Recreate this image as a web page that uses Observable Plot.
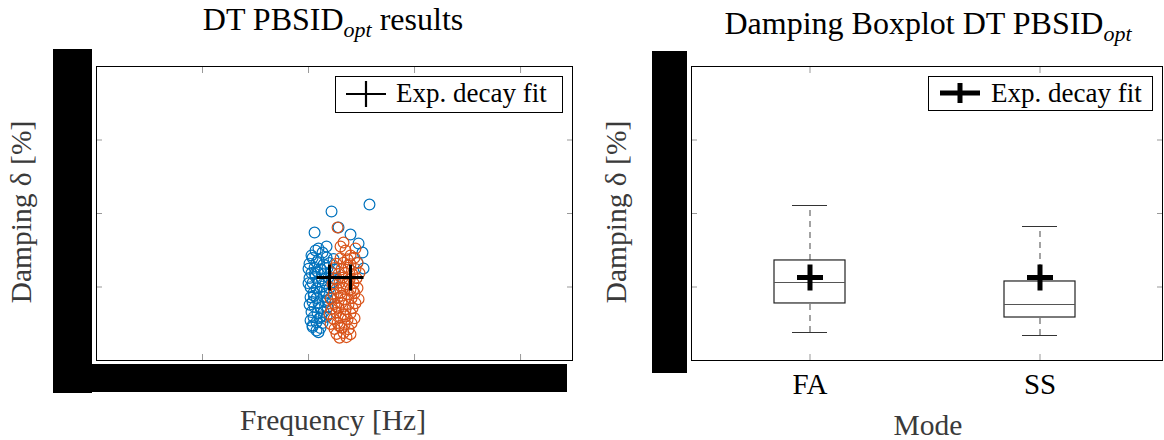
<!DOCTYPE html>
<html>
<head>
<meta charset="utf-8">
<script src="https://cdn.jsdelivr.net/npm/d3@7"></script>
<script src="https://cdn.jsdelivr.net/npm/@observablehq/plot@0.6"></script>
<style>
  body { margin: 0; background: #fff; }
  #root { position: relative; width: 1164px; height: 440px; overflow: hidden; }
  #root > svg, #root > figure { position: absolute; top: 0; margin: 0; }
</style>
</head>
<body>
<div id="root"></div>
<script>
// ---------------- data ----------------
// Scatter, left panel: FA (blue) and SS (orange) identified modes
const blueFreq = [2.217,2.575,2.283,2.057,2.396,2.472,2.509,2.094,2.066,2.132,2.028,2.170,2.462,2.519,
  2.038,2.094,2.170,2.236, 2.009,2.075,2.142,2.198, 2.000,2.057,2.113,2.179,2.245,
  2.028,2.085,2.151,2.217, 2.009,2.066,2.123,2.189, 2.038,2.094,2.160,2.226,
  2.019,2.075,2.132,2.198, 2.047,2.104,2.170, 2.019,2.075,2.142,2.208,
  2.038,2.094,2.160, 2.057,2.113,2.179, 2.028,2.085,2.142, 2.047,2.104,2.170,
  2.075,2.132, 2.038,2.113, 2.094,
  2.000,2.010,2.150,2.060,2.120,2.180,2.240,2.050,2.019,2.075,2.038];
const blueDamp = [2.027,2.122,1.810,1.741,1.714,1.592,1.469,1.524,1.497,1.469,1.429,1.551,1.333,1.252,
  1.395,1.372,1.401,1.380, 1.318,1.335,1.305,1.326, 1.247,1.262,1.240,1.258,1.235,
  1.190,1.205,1.182,1.199, 1.122,1.138,1.115,1.131, 1.055,1.070,1.048,1.066,
  0.998,0.980,1.005,0.987, 0.920,0.935,0.912, 0.862,0.849,0.868,0.851,
  0.795,0.778,0.791, 0.728,0.712,0.725, 0.660,0.647,0.664, 0.590,0.578,0.596,
  0.522,0.510, 0.455,0.442, 0.385,
  1.050,0.760,0.950,1.180,0.600,0.820,1.120,0.880,0.544,0.408,0.476];

const orangeFreq = [2.274,2.330,2.443,2.396,2.349,2.302,
  2.302,2.368,2.434, 2.264,2.330,2.396,2.462, 2.245,2.311,2.377,2.443,
  2.283,2.349,2.415,2.481, 2.255,2.321,2.387,2.453, 2.226,2.292,2.358,2.425,
  2.264,2.330,2.396,2.462, 2.236,2.302,2.368,2.434, 2.208,2.274,2.340,2.406,2.472,
  2.245,2.311,2.377,2.443, 2.217,2.283,2.349,2.415, 2.198,2.264,2.330,2.396,
  2.236,2.302,2.368,2.434, 2.208,2.274,2.340,2.406, 2.245,2.311,2.377,
  2.264,2.330,2.396, 2.292,2.358,
  2.290,2.350,2.310,2.260,2.420,2.370];
const orangeDamp = [1.810,1.605,1.524,1.429,1.497,1.551,
  1.392,1.377,1.398, 1.315,1.330,1.308,1.327, 1.258,1.240,1.262,1.245,
  1.178,1.195,1.172,1.190, 1.110,1.125,1.102,1.120, 1.042,1.058,1.035,1.052,
  0.975,0.990,0.968,0.985, 0.905,0.920,0.898,0.915, 0.838,0.852,0.830,0.848,0.835,
  0.770,0.785,0.762,0.780, 0.700,0.715,0.695,0.712, 0.632,0.648,0.625,0.642,
  0.565,0.580,0.558,0.575, 0.498,0.512,0.490,0.508, 0.430,0.445,0.425,
  0.362,0.375,0.358, 0.310,0.318,
  0.470,0.600,0.880,0.740,0.950,1.070];

// Exponential decay fit results (FA, SS)
const fitFreq = [2.198, 2.396];
const fitDamp = [1.129, 1.129];

// Boxplot, right panel
const modes = ["FA", "SS"];
const whiskerLow = [0.381, 0.340];
const quart1 = [0.776, 0.585];
const medians = [1.061, 0.762];
const quart3 = [1.361, 1.075];
const whiskerHigh = [2.109, 1.823];
const fitMean = [1.129, 1.129];

// Tick values (labels hidden in the reference)
const freqTicks = [1, 2, 3, 4];
const dampTicks = [1, 2, 3];

// ---------------- build ----------------
const blue = blueFreq.map((f, i) => ({f, d: blueDamp[i]}));
const orange = orangeFreq.map((f, i) => ({f, d: orangeDamp[i]}));
const fits = fitFreq.map((f, i) => ({f, d: fitDamp[i]}));
const box = modes.map((m, i) => ({mode: m, lo: whiskerLow[i], q1: quart1[i], med: medians[i], q3: quart3[i], hi: whiskerHigh[i], mean: fitMean[i]}));

const plusSym = {
  draw(ctx, size) {
    const r = Math.sqrt(size / Math.PI);
    ctx.moveTo(-r, 0); ctx.lineTo(r, 0);
    ctx.moveTo(0, -r); ctx.lineTo(0, r);
  }
};

const FONT = "'Liberation Serif', 'Times New Roman', serif";
const tickStroke = "#999";
const inTicks = (ticksX, ticksY) => [
  Plot.axisX(ticksX, {anchor: "bottom", tickSize: -6, tickFormat: () => "", label: null, stroke: tickStroke}),
  Plot.axisX(ticksX, {anchor: "top", tickSize: -6, tickFormat: () => "", label: null, stroke: tickStroke}),
  Plot.axisY(ticksY, {anchor: "left", tickSize: -6, tickFormat: () => "", label: null, stroke: tickStroke}),
  Plot.axisY(ticksY, {anchor: "right", tickSize: -6, tickFormat: () => "", label: null, stroke: tickStroke})
];

const left = Plot.plot({
  width: 582, height: 440,
  marginLeft: 96, marginRight: 10, marginTop: 66, marginBottom: 80,
  style: {fontFamily: FONT, background: "transparent", color: "black"},
  x: {domain: [0, 4.49]},
  y: {domain: [0, 4]},
  marks: [
    ...inTicks(freqTicks, dampTicks),
    Plot.dot(blue, {x: "f", y: "d", r: 5.4, stroke: "#0072BD", strokeWidth: 1.2, fill: "none"}),
    Plot.dot(orange, {x: "f", y: "d", r: 5.4, stroke: "#D95319", strokeWidth: 1.2, fill: "none"}),
    Plot.dot(fits, {x: "f", y: "d", symbol: plusSym, r: 13, stroke: "black", strokeWidth: 3, fill: "none"}),
    Plot.frame({stroke: "black", strokeWidth: 1})
  ]
});
left.style.left = "0px";

const right = Plot.plot({
  width: 569, height: 440,
  marginLeft: 96, marginRight: 2, marginTop: 66, marginBottom: 80,
  style: {fontFamily: FONT, background: "transparent", color: "black"},
  x: {domain: modes, paddingInner: 0.693, paddingOuter: 0.366, align: 0.488},
  y: {domain: [0, 4]},
  marks: [
    Plot.axisX({anchor: "bottom", tickSize: -6, tickFormat: () => "", label: null, stroke: tickStroke}),
    Plot.axisX({anchor: "top", tickSize: -6, tickFormat: () => "", label: null, stroke: tickStroke}),
    Plot.axisX({anchor: "bottom", tickSize: 0, tickPadding: 13, label: null, fontSize: 29, fill: "black"}),
    Plot.axisY(dampTicks, {anchor: "left", tickSize: -6, tickFormat: () => "", label: null, stroke: tickStroke}),
    Plot.axisY(dampTicks, {anchor: "right", tickSize: -6, tickFormat: () => "", label: null, stroke: tickStroke}),
    Plot.ruleX(box, {x: "mode", y1: "q3", y2: "hi", stroke: "#666", strokeWidth: 1.2, strokeDasharray: "6,5"}),
    Plot.ruleX(box, {x: "mode", y1: "lo", y2: "q1", stroke: "#666", strokeWidth: 1.2, strokeDasharray: "6,5"}),
    Plot.tickY(box, {x: "mode", y: "hi", insetLeft: 18, insetRight: 18, stroke: "#333", strokeWidth: 1.2}),
    Plot.tickY(box, {x: "mode", y: "lo", insetLeft: 18, insetRight: 18, stroke: "#333", strokeWidth: 1.2}),
    Plot.barY(box, {x: "mode", y1: "q1", y2: "q3", fill: "white", stroke: "#222", strokeWidth: 1.2}),
    Plot.tickY(box, {x: "mode", y: "med", stroke: "#555", strokeWidth: 1.2}),
    Plot.dot(box, {x: "mode", y: "mean", symbol: plusSym, r: 13, stroke: "black", strokeWidth: 5, fill: "none"}),
    Plot.frame({stroke: "black", strokeWidth: 1})
  ]
});
right.style.left = "595px";

const root = document.getElementById("root");
root.appendChild(left);
root.appendChild(right);

// ---------------- overlay: titles, labels, legends, redaction blocks ----------------
const ov = d3.select(root).append("svg")
  .attr("width", 1164).attr("height", 440)
  .style("position", "absolute").style("left", "0px").style("top", "0px")
  .style("font-family", FONT);

// redaction blocks over tick labels
ov.append("rect").attr("x", 53).attr("y", 49).attr("width", 39).attr("height", 344).attr("fill", "black");
ov.append("rect").attr("x", 92).attr("y", 364).attr("width", 475).attr("height", 28).attr("fill", "black");
ov.append("rect").attr("x", 652).attr("y", 51).attr("width", 35).attr("height", 322).attr("fill", "black");

// titles
function title(x, y, pre, post) {
  const t = ov.append("text").attr("x", x).attr("y", y).attr("text-anchor", "middle")
    .attr("font-size", 32).attr("fill", "black");
  t.append("tspan").text(pre);
  t.append("tspan").attr("font-size", 22).attr("font-style", "italic").attr("dy", 7).text("opt");
  if (post) t.append("tspan").attr("dy", -7).text(post);
}
title(333, 30, "DT PBSID", " results");
title(928, 34, "Damping Boxplot DT PBSID", "");

// axis labels
const labCol = "#3a3a3a";
ov.append("text").attr("x", 333).attr("y", 430).attr("text-anchor", "middle").attr("font-size", 29.5).attr("fill", labCol).text("Frequency [Hz]");
ov.append("text").attr("x", 928).attr("y", 435).attr("text-anchor", "middle").attr("font-size", 29.5).attr("fill", labCol).text("Mode");
ov.append("text").attr("transform", "translate(31,212) rotate(-90)").attr("text-anchor", "middle").attr("font-size", 29.5).attr("fill", labCol).text("Damping δ [%]");
ov.append("text").attr("transform", "translate(626,212) rotate(-90)").attr("text-anchor", "middle").attr("font-size", 29.5).attr("fill", labCol).text("Damping δ [%]");

// legends
function legend(x, y, w, h, cx, cy, hw, hh, sw, tx) {
  ov.append("rect").attr("x", x + 0.5).attr("y", y + 0.5).attr("width", w).attr("height", h)
    .attr("fill", "white").attr("stroke", "black").attr("stroke-width", 1);
  ov.append("path").attr("d", `M${cx - hw},${cy}H${cx + hw}M${cx},${cy - hh}V${cy + hh}`)
    .attr("stroke", "black").attr("stroke-width", sw).attr("fill", "none");
  ov.append("text").attr("x", tx).attr("y", y + 26).attr("font-size", 27).attr("fill", "black").text("Exp. decay fit");
}
legend(335, 76, 227, 36, 366, 94, 20, 13, 2.2, 396);
legend(928, 76, 224, 34, 960, 93, 20, 10, 5, 991);
</script>
</body>
</html>
